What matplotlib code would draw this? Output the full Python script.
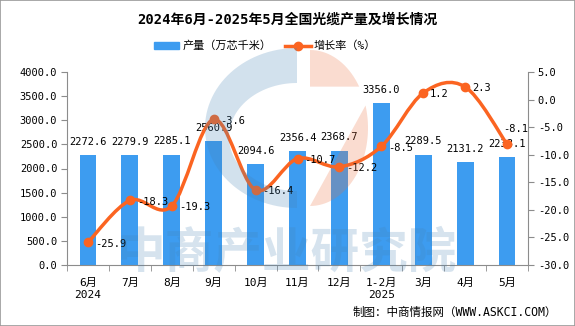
import numpy as np
import matplotlib
matplotlib.use('Agg')
import matplotlib.pyplot as plt
from matplotlib.path import Path
from matplotlib.patches import PathPatch, Patch, Rectangle
from matplotlib.lines import Line2D

plt.rcParams['font.family'] = ['DejaVu Sans Mono', 'Noto Sans CJK SC']
plt.rcParams['axes.unicode_minus'] = False

meses = ['6月\n2024', '7月', '8月', '9月', '10月', '11月', '12月',
         '1-2月\n2025', '3月', '4月', '5月']
producao = [2272.6, 2279.9, 2285.1, 2560.9, 2094.6, 2356.4, 2368.7,
            3356.0, 2289.5, 2131.2, 2238.1]
crescimento = [-25.9, -18.3, -19.3, -3.6, -16.4, -10.7, -12.2,
               -8.5, 1.2, 2.3, -8.1]

cor_barra = '#3d9cf0'
cor_linha = '#fb6421'
cor_eixo = '#8c8c8c'


def caminhoSuave(xs, ys):
    # curva de Bezier passando pelos pontos (Catmull-Rom)
    pts = np.column_stack([xs, ys]).astype(float)
    ext = np.vstack([pts[0], pts, pts[-1]])
    verts = [pts[0]]
    codes = [Path.MOVETO]
    for i in range(len(pts) - 1):
        p0, p1, p2, p3 = ext[i], ext[i + 1], ext[i + 2], ext[i + 3]
        verts += [p1 + (p2 - p0) / 6, p2 - (p3 - p1) / 6, p2]
        codes += [Path.CURVE4] * 3
    return Path(verts, codes)


fig = plt.figure(figsize=(5.75, 3.26), dpi=100)
ax = fig.add_axes([67 / 575, 1 - 265 / 326, (528 - 67) / 575, (265 - 72) / 326])
ax2 = ax.twinx()

x = np.arange(len(meses))
barras = ax.bar(x, producao, width=0.4, color=cor_barra, zorder=2)
for xi, v in zip(x, producao):
    ax.annotate('{:.1f}'.format(v), (xi, v), xytext=(0, 6), textcoords='offset points',
                ha='center', va='bottom', fontsize=7.5)

ax.set_xlim(-0.5, len(meses) - 0.5)
ax.set_ylim(0, 4000)
ax.set_yticks(np.arange(0, 4001, 500))
ax.set_yticklabels(['{:.1f}'.format(v) for v in np.arange(0, 4001, 500)])
ax.set_xticks(x)
ax.set_xticklabels(meses, fontsize=8, linespacing=1.35)
ax.set_xticks(np.arange(-0.5, len(meses), 1), minor=True)
ax.tick_params(axis='x', which='major', length=0, pad=9)
ax.tick_params(axis='x', which='minor', length=4, color=cor_eixo)
ax.tick_params(axis='y', length=4, color=cor_eixo, labelsize=7.5, pad=3)

ax2.set_ylim(-30, 5)
ax2.set_yticks(np.arange(-30, 6, 5))
ax2.set_yticklabels(['{:.1f}'.format(v) for v in np.arange(-30, 6, 5)])
ax2.tick_params(axis='y', length=4, color=cor_eixo, labelsize=7.5, pad=3)

for a in (ax, ax2):
    a.spines['top'].set_visible(False)
    for s in ('left', 'right', 'bottom'):
        a.spines[s].set_color(cor_eixo)
ax.spines['right'].set_visible(False)
ax2.spines['left'].set_visible(False)
ax2.spines['bottom'].set_visible(False)

ax2.add_patch(PathPatch(caminhoSuave(x, crescimento), fill=False, edgecolor=cor_linha,
                        linewidth=2.5, zorder=3, capstyle='round'))
ax2.plot(x, crescimento, linestyle='none', marker='o', markersize=6,
         color=cor_linha, zorder=4)
for xi, v in zip(x, crescimento):
    if xi == len(meses) - 1:
        off = (-3, 11)
    else:
        off = (5, -1)
    ax2.annotate('{:.1f}'.format(v), (xi, v), xytext=off, textcoords='offset points',
                 ha='left', va='center', fontsize=7.5, zorder=5)

fig.text(0.5, 1 - 20 / 326, '2024年6月-2025年5月全国光缆产量及增长情况',
         ha='center', va='center', fontsize=10, fontweight='bold')

handles = [Patch(color=cor_barra, label='产量（万芯千米）'),
           Line2D([0], [0], color=cor_linha, lw=2.5, marker='o', markersize=6,
                  label='增长率（%）')]
fig.legend(handles=handles, loc='center', bbox_to_anchor=(265 / 575, 1 - 46 / 326),
           ncol=2, frameon=False, fontsize=8, handlelength=2.3, handleheight=0.5,
           columnspacing=1.2, handletextpad=0.3)

fig.text(557 / 575, 1 - 312 / 326, '制图：中商情报网（WWW.ASKCI.COM）',
         ha='right', va='center', fontsize=8.3)

# marca d'agua por cima do grafico, em pixels da figura
wm = fig.add_axes([0, 0, 1, 1], zorder=10)
wm.set_xlim(0, 575)
wm.set_ylim(326, 0)
wm.axis('off')

t = np.linspace(np.pi / 2, 3 * np.pi / 2, 60)
externo = np.column_stack([297 + 92 * np.cos(t), 128 - 80 * np.sin(t)])
interno = np.column_stack([297 + 68 * np.cos(t[::-1]), 137 - 54 * np.sin(t[::-1])])
anel = np.vstack([externo, interno, externo[:1]])
wm.add_patch(PathPatch(Path(anel, closed=True), facecolor='#4682b4', edgecolor='none',
                       alpha=0.24))

t2 = np.linspace(-np.pi / 2, np.pi / 2, 60)
meio = np.column_stack([310 + 58 * np.cos(t2), 128 - 78 * np.sin(t2)])
cima = meio[meio[:, 1] <= 88]
baixo = meio[meio[:, 1] >= 102]
for parte in (cima, baixo):
    parte = np.vstack([[310, parte[0, 1]], parte, [310, parte[-1, 1]]])
    wm.add_patch(PathPatch(Path(parte, closed=True), facecolor='#eb6e3c',
                           edgecolor='none', alpha=0.24))

wm.text(287, 254, '中商产业研究院', ha='center', va='center', fontsize=35,
        fontweight='bold', color='#4682b4', alpha=0.22, family='Noto Sans CJK SC')

fig.add_artist(Rectangle((0, 0), 1, 1, transform=fig.transFigure, fill=False,
                         edgecolor='#999999', linewidth=1.2))

fig.savefig('out.png', dpi=100)
